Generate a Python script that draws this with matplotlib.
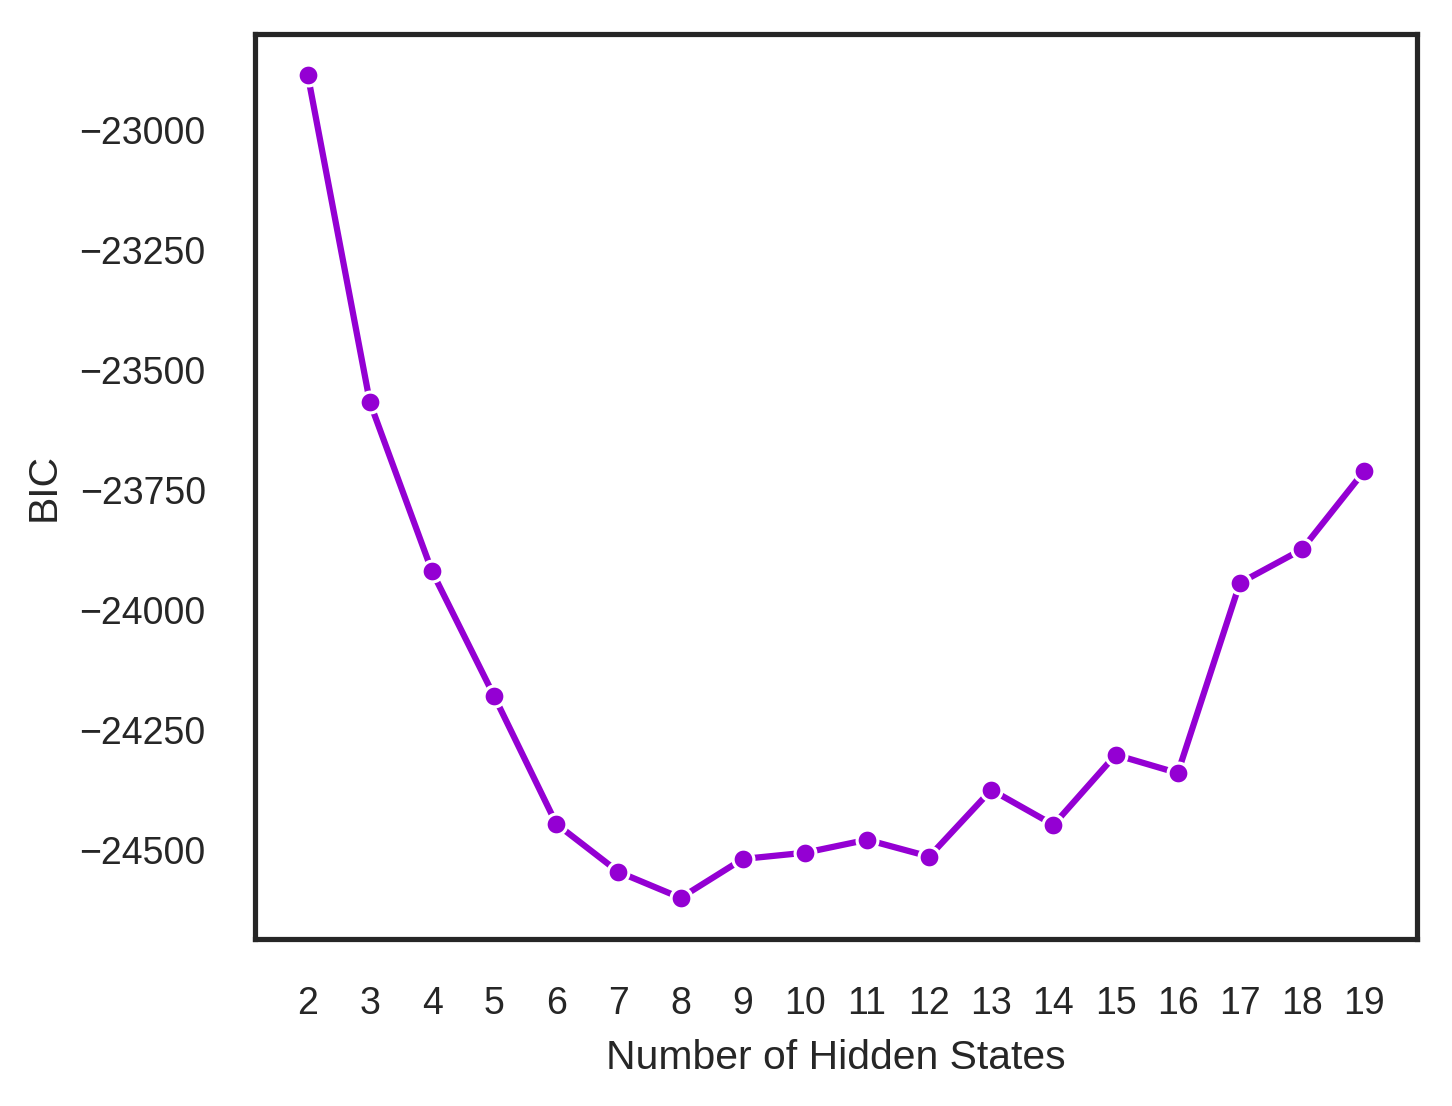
import numpy as np
import matplotlib
matplotlib.use("Agg")
import matplotlib.pyplot as plt
import seaborn as sns

sns.set_style("white")
plt.rcParams['font.family'] = ['Liberation Sans', 'DejaVu Sans']

# number of hidden states tried and the BIC for each
n_states = [2, 3, 4, 5, 6, 7, 8, 9, 10, 11, 12, 13, 14, 15, 16, 17, 18, 19]
bic = [-22886, -23568, -23920, -24180, -24446, -24546, -24600, -24519, -24506,
       -24479, -24514, -24375, -24448, -24302, -24340, -23944, -23874, -23711]

fig = plt.figure(figsize=(4.84, 3.6867), dpi=300)
ax = fig.add_axes([0.1756, 0.151, 0.8003, 0.8183])

sns.lineplot(x=n_states, y=bic, marker='o', color='darkviolet', ax=ax,
             linewidth=1.5, markersize=5)

ax.set_xticks(n_states)
ax.set_yticks([-23000, -23250, -23500, -23750, -24000, -24250, -24500])
ax.tick_params(axis='x', labelsize=9, pad=7.8)
ax.tick_params(axis='y', labelsize=9, pad=8.3)
ax.set_xlabel("Number of Hidden States", fontsize=9.8)
ax.set_ylabel("BIC", fontsize=9.8)
for s in ax.spines.values():
    s.set_color('#262626')
    s.set_linewidth(1.25)

fig.savefig("out.png", dpi=300)
